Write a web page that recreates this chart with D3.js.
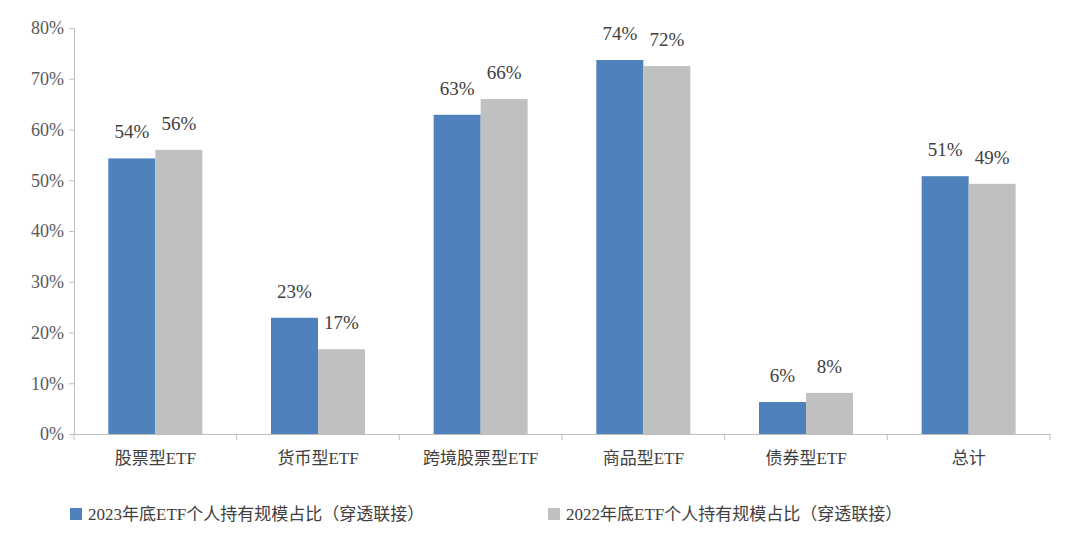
<!DOCTYPE html>
<html><head><meta charset="utf-8">
<script src="https://cdn.jsdelivr.net/npm/d3@7"></script>
<style>body{margin:0;background:#fff}</style>
</head><body><svg id="c" width="1080" height="553"></svg>
<script>
const categories = ['股票型ETF', '货币型ETF', '跨境股票型ETF', '商品型ETF', '债券型ETF', '总计'];
const s2023 = [54.3, 22.9, 62.9, 73.7, 6.3, 50.8];
const s2022 = [56.0, 16.7, 66.0, 72.5, 8.1, 49.3];
const labels2023 = ['54%', '23%', '63%', '74%', '6%', '51%'];
const labels2022 = ['56%', '17%', '66%', '72%', '8%', '49%'];
const seriesNames = ['2023年底ETF个人持有规模占比（穿透联接）', '2022年底ETF个人持有规模占比（穿透联接）'];
const yTicks = [0, 10, 20, 30, 40, 50, 60, 70, 80];

const font = '"Liberation Serif", "Noto Sans CJK SC", serif';
const colors = ['#4f81bd', '#c0c0c0'];
const svg = d3.select('#c');
const mLeft = 74, mRight = 1050, mTop = 28, mBottom = 434;

const x = d3.scaleBand().domain(categories).range([mLeft, mRight]).paddingInner(0).paddingOuter(0);
const y = d3.scaleLinear().domain([0, 80]).range([mBottom, mTop]);
const barW = 47;

// y axis
const ya = svg.append('g').attr('transform', `translate(${mLeft},0)`)
  .call(d3.axisLeft(y).tickValues(yTicks).tickFormat(d => d + '%').tickSizeOuter(0).tickSize(5));
ya.select('.domain').attr('stroke', '#bfbfbf');
ya.selectAll('line').attr('stroke', '#bfbfbf');
ya.selectAll('text').attr('font-family', font).attr('font-size', 18).attr('fill', '#595959').attr('dx', -2);

// x axis
const xa = svg.append('g').attr('transform', `translate(0,${mBottom})`)
  .call(d3.axisBottom(x).tickSize(0).tickSizeOuter(0));
xa.select('.domain').attr('stroke', '#bfbfbf');
xa.selectAll('line').remove();
xa.selectAll('text').attr('font-family', font).attr('font-size', 17).attr('fill', '#404040').attr('dy', '1.6em');
const bounds = categories.map(c => x(c)).concat([mRight]);
svg.append('g').selectAll('line').data(bounds).join('line')
  .attr('x1', d => d).attr('x2', d => d).attr('y1', mBottom).attr('y2', mBottom + 6)
  .attr('stroke', '#bfbfbf');

[s2023, s2022].forEach((vals, si) => {
  const labs = si === 0 ? labels2023 : labels2022;
  const g = svg.append('g');
  const cx = (d, i) => x(categories[i]) + x.bandwidth() / 2 + (si - 1) * barW;
  g.selectAll('rect').data(vals).join('rect')
    .attr('x', cx).attr('width', barW)
    .attr('y', d => y(d)).attr('height', d => mBottom - y(d))
    .attr('fill', colors[si]);
  g.selectAll('text').data(vals).join('text')
    .attr('x', (d, i) => cx(d, i) + barW / 2).attr('y', d => y(d) - 20)
    .attr('text-anchor', 'middle').attr('font-family', font).attr('font-size', 19)
    .attr('fill', '#404040').text((d, i) => labs[i]);
});

// legend
const lg = svg.append('g');
[70, 548].forEach((lx, i) => {
  lg.append('rect').attr('x', lx).attr('y', 508).attr('width', 12).attr('height', 12).attr('fill', colors[i]);
  lg.append('text').attr('x', lx + 18).attr('y', 520).attr('font-family', font).attr('font-size', 17)
    .attr('fill', '#404040').text(seriesNames[i]);
});
</script></body></html>
